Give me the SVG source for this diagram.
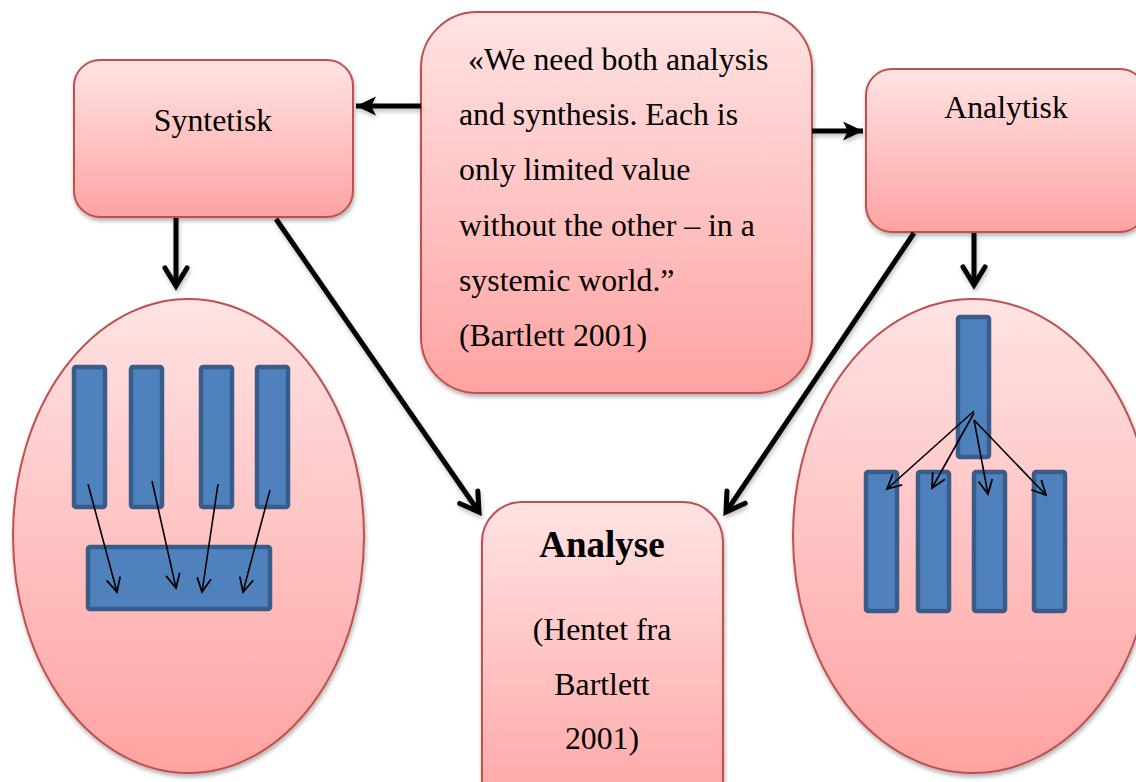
<svg xmlns="http://www.w3.org/2000/svg" width="1136" height="782" viewBox="0 0 1136 782">
  <style>
    .node { stroke: #C0504D; stroke-width: 2; filter: url(#shadow); }
    .label { font-family: "Liberation Serif", "Times New Roman", serif; font-size: 31.8px; fill: #000; }
    .title { font-family: "Liberation Serif", "Times New Roman", serif; font-size: 37px; font-weight: bold; fill: #000; }
    .bar { fill: #4F81BD; stroke: #385D8A; stroke-width: 4.5; }
    .thick { stroke: #000; stroke-width: 5; fill: none; filter: url(#lineShadow); }
    .thin { stroke: #000; stroke-width: 1.6; fill: none; }
  </style>
  <defs>
    <linearGradient id="pink" x1="0" y1="0" x2="0" y2="1">
      <stop offset="0" stop-color="#FFE3E3"/>
      <stop offset="1" stop-color="#FFA3A2"/>
    </linearGradient>
    <filter id="shadow" x="-10%" y="-10%" width="125%" height="125%">
      <feDropShadow dx="1" dy="3" stdDeviation="2" flood-color="#000" flood-opacity="0.3"/>
    </filter>
    <!-- user-space region so straight horizontal/vertical lines still render -->
    <filter id="lineShadow" filterUnits="userSpaceOnUse" x="0" y="0" width="1136" height="782">
      <feDropShadow dx="1" dy="3" stdDeviation="2" flood-color="#000" flood-opacity="0.25"/>
    </filter>
    <marker id="solid" markerUnits="userSpaceOnUse" markerWidth="26" markerHeight="22" refX="20" refY="11" orient="auto" viewBox="0 0 26 22">
      <path d="M0,1.5 L20,11 L0,20.5 L5,11 Z" fill="#000"/>
    </marker>
    <marker id="chevron" markerUnits="userSpaceOnUse" markerWidth="30" markerHeight="32" refX="22" refY="16" orient="auto" viewBox="0 0 30 32">
      <path d="M4,5 L22,16 L4,27" fill="none" stroke="#000" stroke-width="5" stroke-linejoin="miter" stroke-linecap="round"/>
    </marker>
    <marker id="open" markerUnits="userSpaceOnUse" markerWidth="20" markerHeight="20" refX="16" refY="10" orient="auto" viewBox="0 0 20 20">
      <path d="M2,3 L16,10 L2,17" fill="none" stroke="#000" stroke-width="1.8"/>
    </marker>
  </defs>

  <rect width="1136" height="782" fill="#FFFFFF"/>

  <!-- Synthetic view: parts merged into a whole -->
  <g id="syntetisk">
    <rect class="node" x="74" y="60" width="279" height="157" rx="26" fill="url(#pink)"/>
    <text class="label" x="213" y="131" text-anchor="middle">Syntetisk</text>
  </g>

  <g id="syntetisk-figure">
    <ellipse class="node" cx="188.5" cy="536" rx="175.5" ry="237" fill="url(#pink)"/>
    <rect class="bar" x="74" y="367" width="31" height="140" rx="2"/>
    <rect class="bar" x="131" y="367" width="31" height="140" rx="2"/>
    <rect class="bar" x="201" y="367" width="31" height="140" rx="2"/>
    <rect class="bar" x="257" y="367" width="31" height="140" rx="2"/>
    <rect class="bar" x="88" y="547" width="182" height="62" rx="2"/>
    <g class="thin" marker-end="url(#open)">
      <line x1="88" y1="484" x2="117" y2="592"/>
      <line x1="152" y1="481" x2="176" y2="588"/>
      <line x1="218" y1="484" x2="202" y2="592"/>
      <line x1="270" y1="490" x2="243" y2="592"/>
    </g>
  </g>

  <!-- Quotation -->
  <g id="quote">
    <rect class="node" x="421" y="12" width="391" height="381" rx="56" fill="url(#pink)"/>
    <g class="label">
      <text x="468" y="70">«We need both analysis</text>
      <text x="459" y="125">and synthesis. Each is</text>
      <text x="459" y="180">only limited value</text>
      <text x="459" y="236">without the other – in a</text>
      <text x="459" y="291">systemic world.”</text>
      <text x="459" y="346">(Bartlett 2001)</text>
    </g>
  </g>

  <!-- Analytic view: a whole split into parts -->
  <g id="analytisk">
    <rect class="node" x="866" y="69" width="280" height="163" rx="26" fill="url(#pink)"/>
    <text class="label" x="1006" y="118" text-anchor="middle">Analytisk</text>
  </g>

  <g id="analytisk-figure">
    <ellipse class="node" cx="973" cy="536" rx="180" ry="237" fill="url(#pink)"/>
    <rect class="bar" x="958" y="317" width="31" height="140" rx="2"/>
    <rect class="bar" x="866" y="472" width="31" height="139" rx="2"/>
    <rect class="bar" x="918" y="472" width="31" height="139" rx="2"/>
    <rect class="bar" x="974" y="472" width="31" height="139" rx="2"/>
    <rect class="bar" x="1034" y="472" width="31" height="139" rx="2"/>
    <g class="thin" marker-end="url(#open)">
      <line x1="974" y1="411" x2="887" y2="489"/>
      <line x1="974" y1="413" x2="932" y2="488"/>
      <line x1="974" y1="420" x2="988" y2="494"/>
      <line x1="974" y1="420" x2="1046" y2="495"/>
    </g>
  </g>

  <!-- Result -->
  <g id="analyse">
    <rect class="node" x="482" y="502" width="241" height="320" rx="40" fill="url(#pink)"/>
    <text class="title" x="602" y="557" text-anchor="middle">Analyse</text>
    <g class="label" text-anchor="middle">
      <text x="602" y="640">(Hentet fra</text>
      <text x="602" y="695">Bartlett</text>
      <text x="602" y="749">2001)</text>
    </g>
  </g>

  <!-- Connectors -->
  <g id="connectors">
    <line class="thick" x1="421" y1="106" x2="356" y2="106" marker-end="url(#solid)"/>
    <line class="thick" x1="812" y1="131" x2="863" y2="131" marker-end="url(#solid)"/>
    <line class="thick" x1="176" y1="218" x2="176" y2="286" marker-end="url(#chevron)"/>
    <line class="thick" x1="974" y1="233" x2="974" y2="285" marker-end="url(#chevron)"/>
    <line class="thick" x1="276" y1="219" x2="479" y2="512" marker-end="url(#chevron)"/>
    <line class="thick" x1="914" y1="233" x2="726" y2="512" marker-end="url(#chevron)"/>
  </g>
</svg>
